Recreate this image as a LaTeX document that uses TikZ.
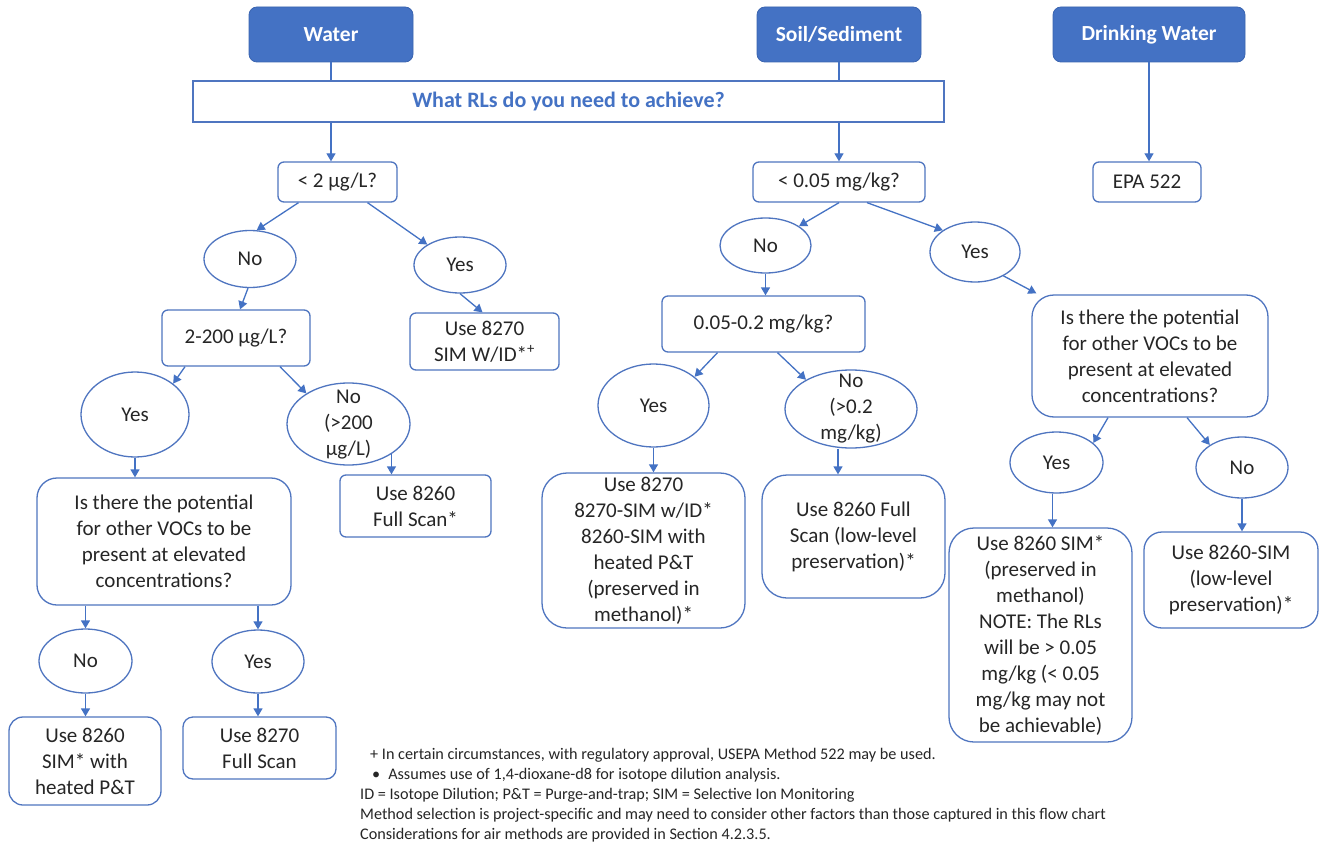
\documentclass[tikz,border=0pt]{standalone}
\usepackage{fontspec}
\setmainfont{Carlito}
\usetikzlibrary{arrows.meta,shapes.geometric}
\definecolor{hdr}{HTML}{4472C4}
\definecolor{hdrb}{HTML}{3A64B0}
\definecolor{bd}{HTML}{4F75C0}
\definecolor{lnc}{HTML}{4472C4}
\definecolor{txt}{HTML}{262626}
\begin{document}
\begin{tikzpicture}[x=1pt,y=-1pt,
  every node/.style={text=txt, font=\fontsize{21}{26}\selectfont, inner sep=0pt, align=center},
  hbox/.style={draw=hdrb, line width=0.8pt, fill=hdr, rounded corners=8pt, text=white, font=\bfseries\fontsize{21.5}{24}\selectfont},
  rbox/.style={draw=bd, line width=1.3pt, rounded corners=#1, fill=white},
  rbox/.default=6pt,
  ell/.style={draw=bd, line width=1.3pt, ellipse, fill=white},
  arr/.style={draw=lnc, line width=1.3pt, -{Triangle[length=8pt,width=9pt]}},
  plain/.style={draw=lnc, line width=1.3pt}
]
\fill[white] (0,0) rectangle (1321,845);
\useasboundingbox (0,0) rectangle (1321,845);

% headers
\node[hbox, minimum width=164pt, minimum height=55pt] (water) at (331,34.5) {Water};
\node[hbox, minimum width=164pt, minimum height=55pt] (soil) at (839,34.5) {Soil/Sediment};
\node[hbox, minimum width=192pt, minimum height=55pt] (drink) at (1149,34.5) {Drinking Water};
\node[draw=bd, line width=1.3pt, minimum width=751pt, minimum height=41pt, text=hdr, font=\bfseries\fontsize{22}{24}\selectfont] (bar) at (568.5,101.5) {What RLs do you need to achieve?};

% water branch
\node[rbox, minimum width=119pt, minimum height=40pt] (lt2) at (337.5,182) {< 2 µg/L?};
\node[ell, minimum width=92pt, minimum height=57pt] (no1) at (250,259) {No};
\node[ell, minimum width=92pt, minimum height=56pt] (yes1) at (460,265) {Yes};
\node[rbox, minimum width=148pt, minimum height=56pt] (r2200) at (236,338) {2-200 µg/L?};
\node[rbox, minimum width=149pt, minimum height=57pt] (u8270sim) at (484.5,341.5) {Use 8270\\SIM W/ID*\textsuperscript{+}};
\node[ell, minimum width=108pt, minimum height=85pt] (yes2) at (135,414.5) {Yes};
\node[ell, minimum width=123pt, minimum height=82pt] (no2) at (348.5,424) {};
\node (no2t) at (348.5,425) {No\\(>200\\µg/L)};
\node[rbox, minimum width=151pt, minimum height=62pt] (u8260fs) at (415.5,506) {Use 8260\\Full Scan*};
\node[rbox=20pt, minimum width=254pt, minimum height=127pt] (isw) at (164,541.5) {Is there the potential\\for other VOCs to be\\present at elevated\\concentrations?};
\node[ell, minimum width=93pt, minimum height=64pt] (no3) at (85.5,661) {No};
\node[ell, minimum width=92pt, minimum height=63pt] (yes3) at (258,661.5) {Yes};
\node[rbox=14pt, minimum width=152pt, minimum height=88pt] (u8260sim) at (85,761) {Use 8260\\SIM* with\\heated P\&T};
\node[rbox=10pt, minimum width=153pt, minimum height=62pt] (u8270fs) at (259.5,748) {Use 8270\\Full Scan};

% soil branch
\node[rbox, minimum width=172pt, minimum height=40pt] (lt005) at (839,182) {< 0.05 mg/kg?};
\node[ell, minimum width=91pt, minimum height=55pt] (no4) at (765.5,245.5) {No};
\node[ell, minimum width=90pt, minimum height=60pt] (yes4) at (975,252) {Yes};
\node[rbox, minimum width=203pt, minimum height=56pt] (r005) at (763.5,324) {0.05-0.2 mg/kg?};
\node[ell, minimum width=111pt, minimum height=83pt] (yes5) at (653.5,405.5) {Yes};
\node[ell, minimum width=132pt, minimum height=78pt] (no5) at (851,409) {};
\node (no5t) at (851,409) {No\\(>0.2\\mg/kg)};
\node[rbox=25pt, minimum width=203pt, minimum height=155pt] (u8270big) at (643.5,550.5) {Use 8270\\8270-SIM w/ID*\\8260-SIM with\\heated P\&T\\(preserved in\\methanol)*};
\node[rbox=25pt, minimum width=183pt, minimum height=123pt] (u8260fs2) at (853.5,536.5) {Use 8260 Full\\Scan (low-level\\preservation)*};
\node[rbox=22pt, minimum width=236pt, minimum height=122pt] (iss) at (1150,356) {Is there the potential\\for other VOCs to be\\present at elevated\\concentrations?};
\node[ell, minimum width=93pt, minimum height=61pt] (yes6) at (1056.5,462.5) {Yes};
\node[ell, minimum width=92pt, minimum height=61pt] (no6) at (1242,467.5) {No};
\node[rbox=25pt, minimum width=183pt, minimum height=214pt] (u8260simm) at (1040.5,635) {Use 8260 SIM*\\(preserved in\\methanol)\\NOTE: The RLs\\will be > 0.05\\mg/kg (< 0.05\\mg/kg may not\\be achievable)};
\node[rbox=18pt, minimum width=174pt, minimum height=96pt] (u8260siml) at (1231,580) {Use 8260-SIM\\(low-level\\preservation)*};

% drinking water
\node[rbox, minimum width=108pt, minimum height=40pt] (epa) at (1147,182) {EPA 522};

% connectors top
\draw[plain] (water.south) -- (water.south |- bar.north);
\draw[arr] (water.south |- bar.south) -- (water.south |- lt2.north);
\draw[plain] (soil.south) -- (soil.south |- bar.north);
\draw[arr] (soil.south |- bar.south) -- (soil.south |- lt005.north);
\draw[arr] (drink.south) -- (drink.south |- epa.north);

% water connectors
\draw[arr] ([xshift=-39pt]lt2.south) -- (no1.77);
\draw[arr] ([xshift=30pt]lt2.south) -- (yes1.148);
\draw[arr] ([xshift=-2pt]no1.south) -- ([xshift=4pt]r2200.north);
\draw[arr] (yes1.south) -- ([xshift=-2pt]u8270sim.north);
\draw[arr] ([xshift=-51pt]r2200.south) -- (yes2.39);
\draw[arr] ([xshift=44pt]r2200.south) -- (no2.144);
\draw[arr] (yes2.south) -- (yes2.south |- isw.north);
\draw[arr] (no2.-35) -- (no2.-35 |- u8260fs.north);
\draw[arr] (no3.north |- isw.south) -- (no3.north);
\draw[arr] (yes3.north |- isw.south) -- (yes3.north);
\draw[arr] (no3.south) -- (no3.south |- u8260sim.north);
\draw[arr] (yes3.south) -- (yes3.south |- u8270fs.north);

% soil connectors
\draw[arr] (lt005.south) -- (no4.30);
\draw[arr] ([xshift=28pt]lt005.south) -- (yes4.146);
\draw[arr] (no4.south) -- (no4.south |- r005.north);
\draw[arr] ([xshift=-46pt]r005.south) -- (yes5.35);
\draw[arr] ([xshift=14pt]r005.south) -- (no5.147);
\draw[arr] (yes5.south) -- (yes5.south |- u8270big.north);
\draw[arr] ([xshift=-13pt]no5.south) -- ([xshift=-13pt]no5.south |- u8260fs2.north);
\draw[arr] (yes4.-40) -- ([xshift=5pt,yshift=1pt]iss.north west);
\draw[arr] ([xshift=-42pt]iss.south) -- (yes6.28);
\draw[arr] ([xshift=37pt]iss.south) -- (no6.145);
\draw[arr] ([xshift=-4pt]yes6.south) -- ([xshift=-4pt]yes6.south |- u8260simm.north);
\draw[arr] (no6.south) -- (no6.south |- u8260siml.north);

% notes
\node[anchor=north west, align=left, font=\fontsize{16.2}{20}\selectfont] (notes) at (360,748) {\hspace*{10pt}+ In certain circumstances, with regulatory approval, USEPA Method 522 may be used.\\
\hspace*{12pt}\textbullet\hspace{8pt}Assumes use of 1,4-dioxane-d8 for isotope dilution analysis.\\
ID = Isotope Dilution; P\&T = Purge-and-trap; SIM = Selective Ion Monitoring\\
Method selection is project-specific and may need to consider other factors than those captured in this flow chart\\
Considerations for air methods are provided in Section 4.2.3.5.};
\end{tikzpicture}
\end{document}
